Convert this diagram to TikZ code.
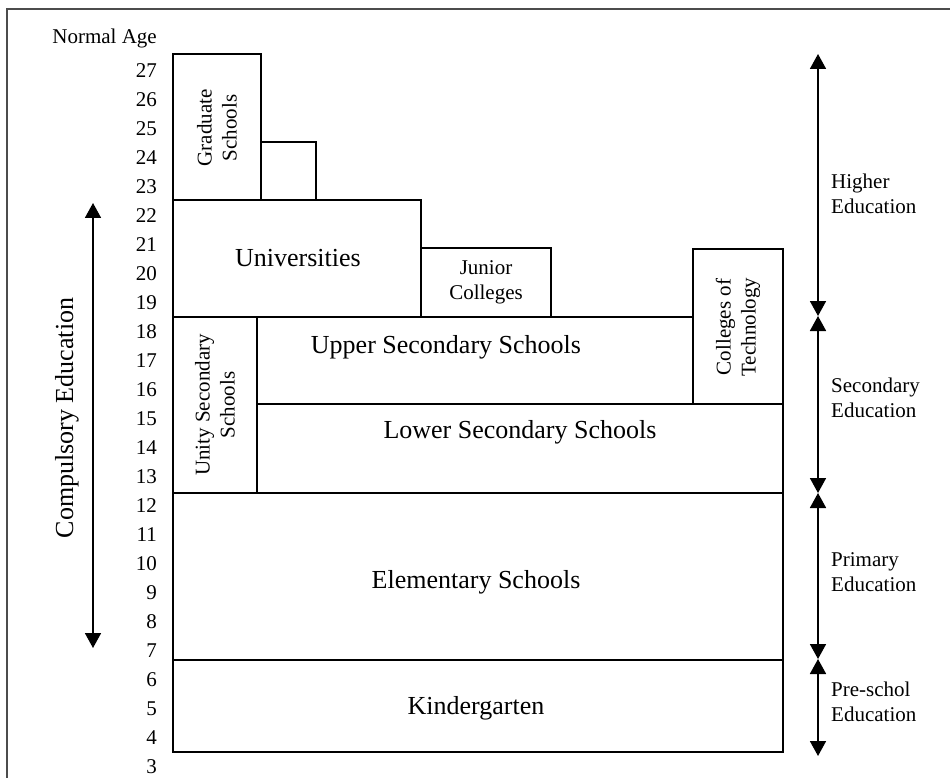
\documentclass[tikz,border=0pt]{standalone}
\usepackage{fontspec}
\setmainfont{Liberation Serif}
\usetikzlibrary{arrows.meta}

\begin{document}
\begin{tikzpicture}[x=1pt, y=-1pt,
	box/.style={draw=black, line width=1.8pt},
	big/.style={font=\fontsize{26}{30}\selectfont, align=center, inner sep=0pt},
	small/.style={font=\fontsize{21}{25}\selectfont, align=center, inner sep=0pt},
	age/.style={font=\fontsize{21}{24}\selectfont, anchor=east, inner sep=0pt},
	stage/.style={font=\fontsize{21}{25}\selectfont, align=left, anchor=west, inner sep=0pt},
	span/.style={line width=1.8pt, {Triangle[width=16pt,length=15pt]}-{Triangle[width=16pt,length=15pt]}}]
	\useasboundingbox (0,0) rectangle (950,778);
	\draw[line width=1.5pt, black!70] (7,778) -- (7,9) -- (950,9);
	% ages
	\node[age] (Normal Age) at (157, 38) {Normal Age};
	\foreach \a in {3,...,27}
		\node[age] (age\a) at (157, {71+29*(27-\a)}) {\a};
	% schools
	\draw[box] (173,54) rectangle (261,200);
	\draw[box] (261,142) rectangle (316,200);
	\draw[box] (173,200) rectangle (421,317);
	\draw[box] (421,248) rectangle (551,317);
	\draw[box] (693,249) rectangle (783,404);
	\draw[box] (257,317) rectangle (693,404);
	\draw[box] (173,317) rectangle (257,493);
	\draw[box] (257,404) rectangle (783,493);
	\draw[box] (173,493) rectangle (783,660);
	\draw[box] (173,660) rectangle (783,752);
	\node[small, rotate=90] (Graduate Schools) at (217, 128) {Graduate\\Schools};
	\node[big] (Universities) at (298, 258) {Universities};
	\node[small] (Junior Colleges) at (486, 282) {Junior\\Colleges};
	\node[small, rotate=90] (Colleges of Technology) at (738, 327) {Colleges of\\Technology};
	\node[big] (Upper Secondary Schools) at (446, 347) {Upper Secondary Schools};
	\node[small, rotate=90] (Unity Secondary Schools) at (215, 405) {Unity Secondary\\Schools};
	\node[big] (Lower Secondary Schools) at (520, 432) {Lower Secondary Schools};
	\node[big] (Elementary Schools) at (476, 582) {Elementary Schools};
	\node[big] (Kindergarten) at (476, 708) {Kindergarten};
	% compulsory
	\coordinate (Compulsory Top) at (93, 203);
	\coordinate (Compulsory Bottom) at (93, 648);
	\draw[span] (Compulsory Top) -- (Compulsory Bottom);
	\node[big, rotate=90] (Compulsory Education) at (67, 418) {Compulsory Education};
	% stages
	\coordinate (s0) at (818, 54);
	\coordinate (s1) at (818, 316);
	\coordinate (s2) at (818, 493);
	\coordinate (s3) at (818, 659);
	\coordinate (s4) at (818, 756);
	\draw[span] (s0) -- (s1);
	\draw[span] (s1) -- (s2);
	\draw[span] (s2) -- (s3);
	\draw[span] (s3) -- (s4);
	\node[stage] (Higher Education) at (831, 194) {Higher\\Education};
	\node[stage] (Secondary Education) at (831, 398) {Secondary\\Education};
	\node[stage] (Primary Education) at (831, 572) {Primary\\Education};
	\node[stage] (Pre-schol Education) at (831, 702) {Pre-schol\\Education};
\end{tikzpicture}
\end{document}
